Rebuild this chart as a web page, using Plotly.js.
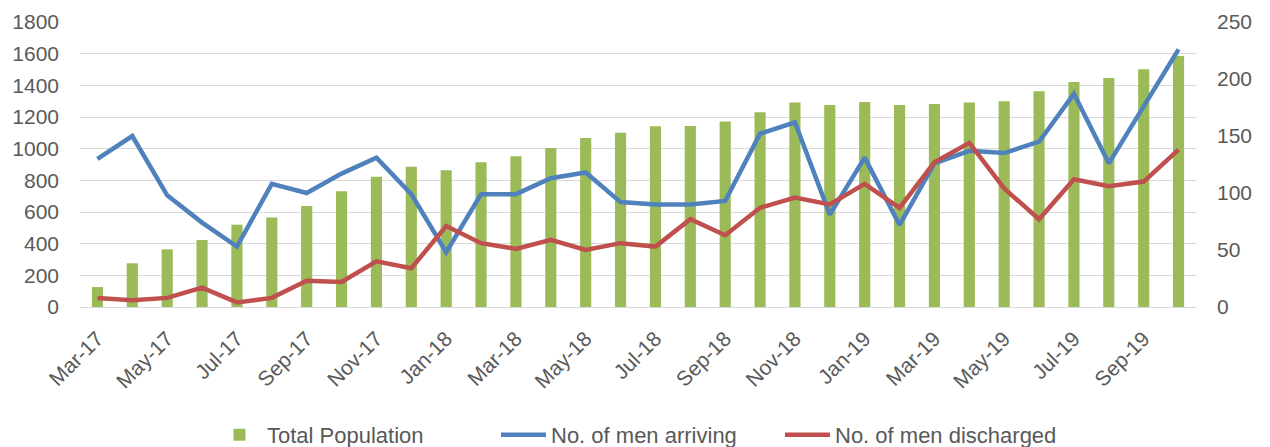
<!DOCTYPE html>
<html>
<head>
<meta charset="utf-8">
<script src="https://cdn.plot.ly/plotly-3.0.1.min.js"></script>
<style>
html,body{margin:0;padding:0;background:#fff;}
#chart{width:1270px;height:447px;}
</style>
</head>
<body>
<div id="chart"></div>
<script>
var months = ['Mar-17','Apr-17','May-17','Jun-17','Jul-17','Aug-17','Sep-17','Oct-17','Nov-17','Dec-17',
  'Jan-18','Feb-18','Mar-18','Apr-18','May-18','Jun-18','Jul-18','Aug-18','Sep-18','Oct-18','Nov-18','Dec-18',
  'Jan-19','Feb-19','Mar-19','Apr-19','May-19','Jun-19','Jul-19','Aug-19','Sep-19','Oct-19'];
var totalPopulation = [126,276,364,423,520,566,638,731,823,886,
  863,914,952,1004,1067,1101,1141,1143,1171,1230,1291,1276,
  1295,1276,1282,1291,1299,1362,1421,1446,1501,1585];
var menArriving = [130,150,98,74,53,108,100,117,131,99,
  48,99,99,113,118,92,90,90,93,152,162,81,
  131,72,126,137,135,145,187,126,176,226];
var menDischarged = [8,6,8,17,4,8,23,22,40,34,
  71,56,51,59,50,56,53,77,63,87,96,90,
  108,87,127,144,104,77,112,106,110,138];
var tickLabels = months.filter(function(m,i){return i%2===0;});

// tick marks sit between categories, every second category
var boundaryTicks = [];
for (var b = -0.5; b <= months.length - 0.5; b += 2) boundaryTicks.push(b);

var fontFam = '"Liberation Sans", Arial, sans-serif';
var grey = '#595959';

var traces = [
  {type:'bar', name:'Total Population', x:months, y:totalPopulation,
   marker:{color:'#9BBB59'}, width:0.32, yaxis:'y'},
  {type:'scatter', mode:'lines', name:'No. of men arriving', x:months, y:menArriving,
   line:{color:'#4F81BD', width:4.5}, yaxis:'y2'},
  {type:'scatter', mode:'lines', name:'No. of men discharged', x:months, y:menDischarged,
   line:{color:'#C0504D', width:4.5}, yaxis:'y2'}
];

var layout = {
  width:1270, height:447,
  margin:{l:80, r:74, t:22, b:140, autoexpand:false},
  paper_bgcolor:'#fff', plot_bgcolor:'#fff',
  font:{family:fontFam, color:grey, size:21},
  showlegend:true,
  legend:{orientation:'h', x:0.5, xanchor:'center', y:-0.449, yanchor:'middle',
    font:{size:22, color:grey}, traceorder:'normal', entrywidth:224, itemwidth:45},
  xaxis:{type:'category', range:[-0.5,31.5], tickmode:'array', tickvals:tickLabels, ticktext:tickLabels,
    ticks:'', ticklabelstandoff:10,
    showline:true, linecolor:'#d9d9d9', linewidth:1, showgrid:false, automargin:false,
    tickangle:-45, tickfont:{size:21, color:grey}, fixedrange:true},
  xaxis2:{type:'linear', range:[-0.5,31.5], overlaying:'x', anchor:'y', side:'bottom',
    tickmode:'array', tickvals:boundaryTicks, showticklabels:false,
    ticks:'outside', ticklen:8, tickcolor:'#d9d9d9', tickwidth:1,
    showline:false, showgrid:false, zeroline:false, automargin:false, fixedrange:true},
  yaxis:{range:[0,1800], dtick:200, tick0:0, showgrid:true, gridcolor:'#d9d9d9', gridwidth:1,
    zeroline:false, showline:false, ticks:'', ticklabelstandoff:20, automargin:false,
    tickfont:{size:21, color:grey}, fixedrange:true},
  yaxis2:{range:[0,250], dtick:50, tick0:0, overlaying:'y', side:'right', showgrid:false,
    zeroline:false, showline:false, ticks:'', ticklabelstandoff:20, automargin:false,
    tickfont:{size:21, color:grey}, fixedrange:true},
  bargap:0.68
};

Plotly.newPlot('chart', traces, layout, {displayModeBar:false, staticPlot:true});
</script>
</body>
</html>
